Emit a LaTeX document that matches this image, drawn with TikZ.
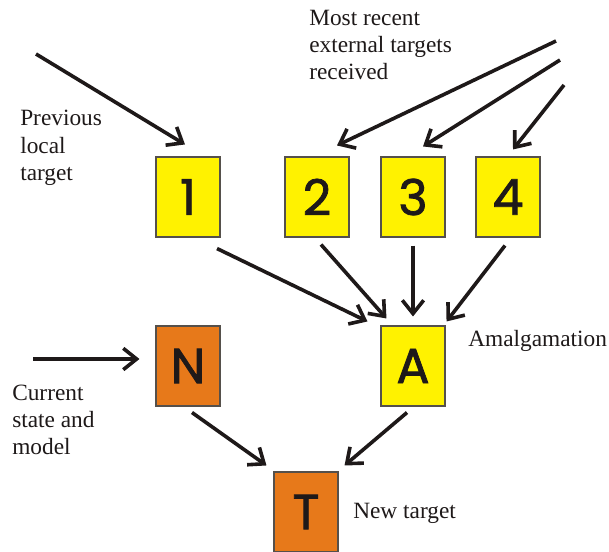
\documentclass[tikz,border=0pt]{standalone}
\usepackage{fontspec}
\setmainfont{Liberation Serif}
\newfontfamily\boxfont[FakeBold=1.6]{Poppins}
\usetikzlibrary{arrows.meta}
\definecolor{boxyellow}{RGB}{255,242,0}
\definecolor{boxorange}{RGB}{231,121,26}
\definecolor{boxedge}{RGB}{85,80,75}
\definecolor{arrowink}{RGB}{30,25,25}

\tikzset{
  box/.style={draw=boxedge, line width=0.8pt, minimum width=48pt, minimum height=60pt,
    inner sep=0pt, text=arrowink, font=\boxfont\fontsize{37}{40}\selectfont},
  ybox/.style={box, fill=boxyellow},
  obox/.style={box, fill=boxorange},
  arr/.style={-{Straight Barb[length=10pt,width=16pt]}, line width=2.7pt, draw=arrowink},
  lbl/.style={anchor=west, align=left, inner sep=0pt, text=arrowink,
    font=\fontsize{17.5}{20.5}\selectfont}
}

\begin{document}
\begin{tikzpicture}[x=0.75pt,y=-0.75pt]
\useasboundingbox (0,0) rectangle (609,552);

% Boxes: targets
\node[ybox] (b1) at (188,197) {1};
\node[ybox] (b2) at (317,197) {2};
\node[ybox] (b3) at (413,197) {3};
\node[ybox] (b4) at (508,197) {4};
% Boxes: N, A, T
\node[obox] (N) at (188,366) {N};
\node[ybox] (A) at (413,366) {A};
\node[obox] (T) at (306,512) {T};

% Text Nodes
\node[lbl] (prev) at (20,148) {Previous\\local\\target};
\node[lbl] (ext) at (309,45) {Most recent\\external targets\\received};
\node[lbl] (cur) at (12,420) {Current\\state and\\model};
\node[lbl] (amal) at (468,341) {Amalgamation};
\node[lbl] (newt) at (353,513) {New target};

% free ends
\coordinate (s1) at (36,54);
\coordinate (s2) at (556,41);
\coordinate (s3) at (560,60);
\coordinate (s4) at (564,85);
\coordinate (sN) at (33,359);

% Arrows in
\draw[arr] (s1) -- ([shift={(-3,-12)}]b1.north);
\draw[arr] (s2) -- ([shift={(20,-11)}]b2.north);
\draw[arr] (s3) -- ([shift={(10,-10)}]b3.north);
\draw[arr] (s4) -- ([shift={(5,-7)}]b4.north);
\draw[arr] (sN) -- ([shift={(-16,-7)}]N.west);

% Arrows to A
\draw[arr] ([shift={(29,11)}]b1.south) -- ([shift={(-13,-4)}]A.north west);
\draw[arr] ([shift={(4,7)}]b2.south) -- ([shift={(6,-7)}]A.north west);
\draw[arr] ([shift={(0,8)}]b3.south) -- ([shift={(0,-9)}]A.north);
\draw[arr] ([shift={(-3,8)}]b4.south) -- ([shift={(1,-4)}]A.north east);

% Arrows to T
\draw[arr] ([shift={(4,6)}]N.south) -- ([shift={(-7,-6)}]T.north west);
\draw[arr] ([shift={(-6,6)}]A.south) -- ([shift={(6,-6)}]T.north east);

\end{tikzpicture}
\end{document}
